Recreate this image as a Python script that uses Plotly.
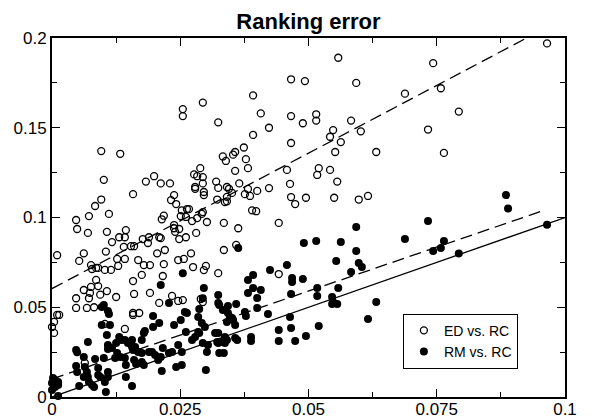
import plotly.graph_objects as go
import numpy as np

# ED vs. RC (open circles)
ed_x = [0.0965, 0.0743, 0.0688, 0.0758, 0.0793, 0.0733, 0.0764,
        0.0558, 0.0466, 0.0493, 0.0593, 0.0392, 0.0294, 0.0407, 0.0466, 0.0515, 0.0515, 0.0489, 0.0583,
        0.0324, 0.0423, 0.0548, 0.0602, 0.0392, 0.0542, 0.0563, 0.0466, 0.0552, 0.0632, 0.0374, 0.0357,
        0.0353, 0.0333, 0.0339, 0.0378, 0.0382, 0.0357, 0.0458, 0.0520, 0.0517, 0.0542, 0.0289, 0.0294,
        0.0294, 0.0320, 0.0365, 0.0464, 0.0556, 0.0324, 0.0341, 0.0345, 0.0351, 0.0341, 0.0337, 0.0341,
        0.0296, 0.0296, 0.0382, 0.0400, 0.0423, 0.0376, 0.0386, 0.0322, 0.0466, 0.0474, 0.0495, 0.0550,
        0.0598, 0.0616, 0.0390, 0.0398,
        0.0255, 0.0255, 0.0096, 0.0133, 0.0277, 0.0283, 0.0101, 0.0183, 0.0199, 0.0212, 0.0230, 0.0279,
        0.0279, 0.0158, 0.0096, 0.0084, 0.0111, 0.0072, 0.0047, 0.0049, 0.0070, 0.0107, 0.0144, 0.0131,
        0.0142, 0.0117, 0.0154, 0.0160, 0.0140, 0.0105, 0.0177, 0.0189, 0.0187, 0.0209, 0.0212, 0.0205,
        0.0220, 0.0214, 0.0218, 0.0232, 0.0238, 0.0242, 0.0238, 0.0238, 0.0248, 0.0240, 0.0248, 0.0253,
        0.0263, 0.0267, 0.0251, 0.0261, 0.0273, 0.0283, 0.0292, 0.0294, 0.0302, 0.0281, 0.0261, 0.0271,
        0.0010, 0.0053, 0.0062, 0.0076, 0.0086, 0.0078, 0.0090, 0.0103, 0.0115, 0.0127, 0.0129, 0.0142,
        0.0168, 0.0179, 0.0191, 0.0175, 0.0218, 0.0216, 0.0246, 0.0257, 0.0275, 0.0296, 0.0300, 0.0324,
        0.0062, 0.0076, 0.0090, 0.0086, 0.0074, 0.0047, 0.0072, 0.0094, 0.0107, 0.0125, 0.0158, 0.0160,
        0.0191, 0.0209, 0.0234, 0.0255, 0.0290, 0.0294, 0.0047, 0.0068, 0.0082, 0.0246,
        0.0010, 0.0014, 0.0004, 0.0000, 0.0004, 0.0158, 0.0158, 0.0170, 0.0103, 0.0142, 0.0064,
        0.0335, 0.0363, 0.0442, 0.0359, 0.0335, 0.0442]
ed_y = [0.197, 0.186, 0.169, 0.172, 0.159, 0.149, 0.136,
        0.189, 0.177, 0.176, 0.175, 0.168, 0.164, 0.158, 0.1565, 0.1575, 0.154, 0.1525, 0.154,
        0.153, 0.150, 0.1487, 0.148, 0.146, 0.145, 0.142, 0.1415, 0.1365, 0.1365, 0.139, 0.1365,
        0.135, 0.134, 0.1315, 0.1325, 0.1275, 0.126, 0.1265, 0.1275, 0.1237, 0.1265, 0.1275, 0.1225,
        0.119, 0.120, 0.119, 0.1187, 0.120, 0.1165, 0.117, 0.116, 0.1137, 0.1115, 0.1086, 0.109,
        0.1142, 0.1125, 0.1159, 0.1148, 0.1164, 0.113, 0.112, 0.110, 0.1114, 0.1075, 0.111, 0.111,
        0.110, 0.112, 0.104, 0.1035,
        0.1604, 0.1565, 0.137, 0.1355, 0.124, 0.123, 0.121, 0.120, 0.123, 0.119, 0.119, 0.117,
        0.116, 0.113, 0.110, 0.1064, 0.102, 0.1008, 0.0986, 0.0936, 0.0914, 0.092, 0.093, 0.089,
        0.089, 0.0863, 0.084, 0.084, 0.0836, 0.081, 0.088, 0.089, 0.0858, 0.089, 0.0885, 0.080,
        0.0819, 0.099, 0.101, 0.1097, 0.1125, 0.1075, 0.0958, 0.094, 0.0936, 0.092, 0.088, 0.104,
        0.1047, 0.1047, 0.1008, 0.1003, 0.098, 0.0997, 0.102, 0.103, 0.0975, 0.0914, 0.089, 0.080,
        0.079, 0.0758, 0.080, 0.0735, 0.0719, 0.0713, 0.0719, 0.0708, 0.0708, 0.0769, 0.073, 0.0769,
        0.0763, 0.0735, 0.0735, 0.068, 0.074, 0.0674, 0.0763, 0.0769, 0.0724, 0.0707, 0.073, 0.069,
        0.0596, 0.0613, 0.0618, 0.0652, 0.058, 0.055, 0.055, 0.057, 0.059, 0.0557, 0.0646, 0.0574,
        0.058, 0.0524, 0.0563, 0.054, 0.0546, 0.0529, 0.0496, 0.0496, 0.050, 0.0535,
        0.0457, 0.0457, 0.0418, 0.039, 0.0357, 0.0468, 0.0457, 0.0468, 0.0407, 0.0379, 0.019,
        0.097, 0.094, 0.097, 0.0847, 0.0819, 0.0685]

# RM vs. RC (filled circles)
rm_x = [0.0885, 0.0889, 0.0733, 0.0965, 0.0688, 0.0764, 0.0758, 0.0743, 0.0793,
        0.0593, 0.0491, 0.0515, 0.0563, 0.0593, 0.0554, 0.0598, 0.0604, 0.0583, 0.0458, 0.0425, 0.0468,
        0.0468, 0.0489, 0.0392, 0.0382, 0.0392, 0.0407, 0.0382, 0.0400, 0.0466, 0.0517, 0.0517, 0.0558,
        0.0546, 0.0548, 0.0556, 0.0546, 0.0632, 0.0363, 0.0324, 0.0343, 0.0326, 0.0359,
        0.0333, 0.0343, 0.0347, 0.0341, 0.0353, 0.0357, 0.0351, 0.0376, 0.0378, 0.0400, 0.0421,
        0.0324, 0.0322, 0.0331, 0.0337, 0.0337, 0.0341, 0.0357, 0.0361, 0.0335, 0.0388, 0.0388,
        0.0442, 0.0442, 0.0464, 0.0466, 0.0474, 0.0495, 0.0520, 0.0616,
        0.0002, 0.0000, 0.0006, 0.0012, 0.0000, 0.0006, 0.0012, 0.0012,
        0.0047, 0.0049, 0.0070, 0.0047, 0.0049, 0.0053,
        0.0062, 0.0064, 0.0068, 0.0062, 0.0070, 0.0072, 0.0078, 0.0082,
        0.0084, 0.0090, 0.0090, 0.0094, 0.0103, 0.0109, 0.0109, 0.0105,
        0.0101, 0.0123, 0.0127, 0.0133, 0.0142, 0.0144, 0.0144,
        0.0097, 0.0101, 0.0109, 0.0111, 0.0097, 0.0113,
        0.0107, 0.0109, 0.0109, 0.0117, 0.0125, 0.0131, 0.0135, 0.0142, 0.0148, 0.0156, 0.0156, 0.0158,
        0.0162, 0.0168, 0.0175, 0.0175, 0.0179, 0.0181, 0.0189, 0.0195,
        0.0156, 0.0160, 0.0164, 0.0175, 0.0179, 0.0197, 0.0209, 0.0197, 0.0214,
        0.0216, 0.0212, 0.0201, 0.0207, 0.0228, 0.0234, 0.0242, 0.0253, 0.0253, 0.0246, 0.0238, 0.0251,
        0.0259, 0.0263, 0.0261, 0.0273, 0.0279, 0.0287, 0.0292, 0.0298, 0.0285, 0.0287, 0.0285, 0.0294,
        0.0300, 0.0302, 0.0304, 0.0318, 0.0324, 0.0326, 0.0324, 0.0228,
        0.0255, 0.0212, 0.0296, 0.0294]
rm_y = [0.1125, 0.105, 0.098, 0.096, 0.088, 0.0869, 0.083, 0.0813, 0.080,
        0.0947, 0.0858, 0.0869, 0.0864, 0.0813, 0.0758, 0.0746, 0.0724, 0.0696, 0.0735, 0.0708, 0.0663,
        0.0641, 0.0657, 0.068, 0.0652, 0.0607, 0.0596, 0.058, 0.0552, 0.0574, 0.0607, 0.0563, 0.0607,
        0.0557, 0.0529, 0.0518, 0.0518, 0.0529, 0.083, 0.0568, 0.0507, 0.0513, 0.0518,
        0.0485, 0.0468, 0.0446, 0.0418, 0.0429, 0.0401, 0.044, 0.0474, 0.0451, 0.0496, 0.0462,
        0.0357, 0.0306, 0.0306, 0.0334, 0.0301, 0.0318, 0.0329, 0.0318, 0.0245, 0.0334, 0.0312,
        0.0373, 0.0312, 0.0446, 0.0384, 0.0312, 0.034, 0.0396, 0.0435,
        0.0106, 0.0078, 0.0095, 0.0084, 0.0039, 0.0056, 0.0067, 0.0006,
        0.0262, 0.025, 0.0306, 0.0173, 0.0139, 0.0061,
        0.0223, 0.0167, 0.0139, 0.0111, 0.0111, 0.0084, 0.0067, 0.0056,
        0.0212, 0.0162, 0.0123, 0.0111, 0.0084, 0.0111, 0.0139, 0.0028,
        0.0217, 0.0217, 0.0245, 0.0223, 0.0217, 0.0178, 0.0111,
        0.0501, 0.0513, 0.0479, 0.0462, 0.0401, 0.0401,
        0.0345, 0.029, 0.0267, 0.0273, 0.0301, 0.0334, 0.0318, 0.0318, 0.0301, 0.0318, 0.0279, 0.0262,
        0.0279, 0.0251, 0.0245, 0.0318, 0.0357, 0.0368, 0.0251, 0.0251,
        0.0061, 0.0206, 0.0184, 0.0195, 0.0178, 0.0451, 0.0412, 0.039, 0.0145,
        0.0273, 0.0223, 0.0234, 0.0206, 0.0245, 0.0251, 0.0167, 0.0178, 0.0251, 0.029, 0.0401, 0.0429,
        0.0474, 0.0468, 0.0362, 0.0318, 0.0334, 0.0357, 0.0412, 0.039, 0.0446, 0.049, 0.0362, 0.0301,
        0.015, 0.0251, 0.029, 0.0357, 0.0301, 0.0245, 0.0524, 0.0524,
        0.069, 0.0624, 0.0607, 0.055]

# Fitted lines: intercept, slope
ed_fit = (0.0604, 1.509)
rm_fit = (0.0100, 0.980)
diag_fit = (0.0, 1.0)

x_max = max(max(ed_x), max(rm_x))
y_top = 0.2

FONT = "Liberation Sans, Arial, Helvetica, sans-serif"

fig = go.Figure()

def line_pts(fit, xe):
    b, m = fit
    return [0.0, xe], [b, b + m * xe]

# diagonal y = x across the full range
dx, dy = line_pts(diag_fit, 0.1)
fig.add_trace(go.Scatter(x=dx, y=dy, mode="lines", line=dict(color="black", width=1.3),
                         showlegend=False, hoverinfo="skip"))
# ED fit (dashed), clipped at top
ed_end = min(x_max, (y_top - ed_fit[0]) / ed_fit[1])
ex, ey = line_pts(ed_fit, ed_end)
fig.add_trace(go.Scatter(x=ex, y=ey, mode="lines",
                         line=dict(color="black", width=1.3, dash="12px,6px"),
                         showlegend=False, hoverinfo="skip"))
# RM fit (dashed)
rx, ry = line_pts(rm_fit, min(x_max, 0.0957))
fig.add_trace(go.Scatter(x=rx, y=ry, mode="lines",
                         line=dict(color="black", width=1.3, dash="12px,6px"),
                         showlegend=False, hoverinfo="skip"))

fig.add_trace(go.Scatter(x=ed_x, y=ed_y, mode="markers", name="ED vs. RC",
                         marker=dict(symbol="circle-open", size=7, color="black",
                                     line=dict(width=1.3, color="black")),
                         cliponaxis=False))
fig.add_trace(go.Scatter(x=rm_x, y=rm_y, mode="markers", name="RM vs. RC",
                         marker=dict(symbol="circle", size=8, color="black"),
                         cliponaxis=False))

axis_common = dict(
    showgrid=False, zeroline=False, showline=True, linecolor="black", linewidth=2,
    mirror="allticks", ticks="inside", ticklen=8, tickwidth=1, tickcolor="black",
    tickfont=dict(family=FONT, size=17, color="black"), automargin=False,
)

fig.update_xaxes(range=[0, 0.1], tickvals=[0, 0.025, 0.05, 0.075, 0.1],
                 ticktext=["0", "0.025", "0.05", "0.075", "0.1"],
                 ticklabelstandoff=-4,
                 minor=dict(dtick=0.0125, ticks="inside", ticklen=5, tickcolor="black", tickwidth=1),
                 **axis_common)
fig.update_yaxes(range=[0, 0.2], tickvals=[0, 0.05, 0.1, 0.15, 0.2],
                 ticktext=["0", "0.05", "0.1", "0.15", "0.2"],
                 minor=dict(dtick=0.025, ticks="inside", ticklen=5, tickcolor="black", tickwidth=1),
                 **axis_common)

fig.update_layout(
    width=592, height=419,
    margin=dict(l=52, r=27, t=38, b=22, autoexpand=False),
    paper_bgcolor="white", plot_bgcolor="white",
    font=dict(family=FONT, color="black"),
    title=dict(text="<b>Ranking error</b>", x=0.5, xref="paper", xanchor="center",
               y=0.95, yref="container", yanchor="middle",
               font=dict(family=FONT, size=22, color="black")),
    legend=dict(x=0.684, y=0.232, xanchor="left", yanchor="top",
                bordercolor="black", borderwidth=1, bgcolor="white",
                font=dict(family=FONT, size=14, color="black"),
                itemwidth=30, tracegroupgap=0),
    showlegend=True,
)

fig.write_html("out.html")
